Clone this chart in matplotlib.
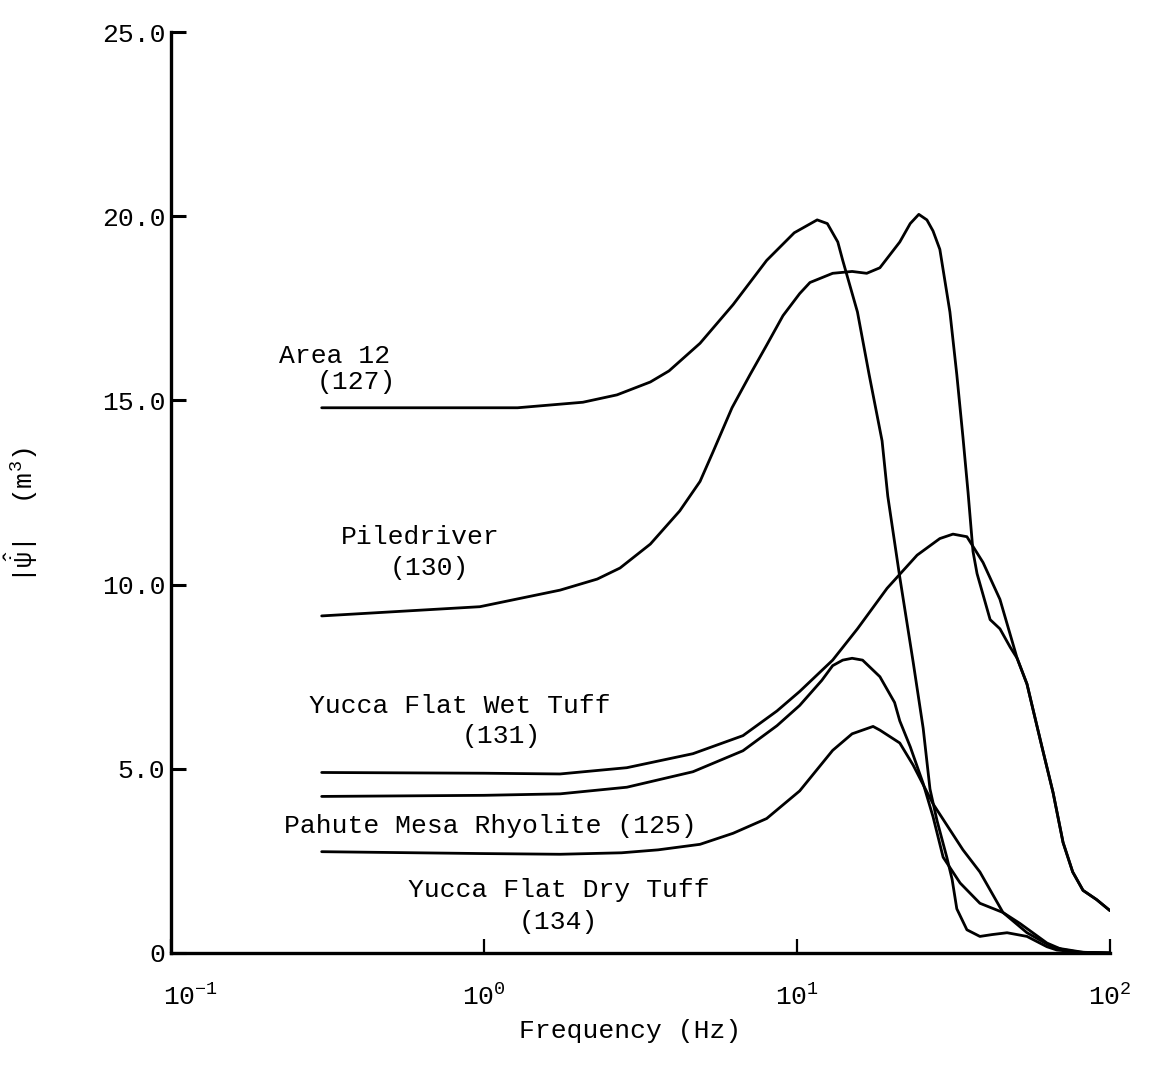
import matplotlib
matplotlib.use("Agg")
import matplotlib.pyplot as plt
from matplotlib.transforms import ScaledTranslation

plt.rcParams['font.family'] = ['Liberation Mono', 'DejaVu Sans']
plt.rcParams['mathtext.fontset'] = 'custom'
plt.rcParams['mathtext.rm'] = 'Liberation Mono'
plt.rcParams['mathtext.it'] = 'Liberation Mono'
plt.rcParams['mathtext.bf'] = 'Liberation Mono:bold'

# ---- data (frequency in Hz, |psi| in m^3) ----
area12_f = [0.303, 0.70, 1.28, 2.07, 2.66, 3.4, 3.9, 4.9, 6.25, 8.0, 9.8, 11.6, 12.5,
            13.5, 14.0, 15.6, 17.0, 18.7, 19.5, 21.3, 23.5, 25.3, 26.6, 28.0, 30.1,
            31.3, 32.4, 34.9, 38.4, 42.0, 46.9, 54.3, 62.9, 67.7, 80.0, 100.0]
area12_v = [14.8, 14.8, 14.8, 14.95, 15.15, 15.5, 15.8, 16.55, 17.6, 18.8, 19.55, 19.9, 19.8,
            19.3, 18.8, 17.4, 15.7, 13.9, 12.4, 10.2, 7.9, 6.1, 4.45, 3.6, 2.6,
            2.0, 1.2, 0.63, 0.45, 0.5, 0.55, 0.45, 0.17, 0.08, 0.02, 0.0]

pile_f = [0.303, 0.97, 1.75, 2.3, 2.72, 3.4, 4.22, 4.9, 5.39, 6.2, 7.08, 8.0, 9.02, 10.2,
          11.0, 13.0, 15.0, 16.7, 18.4, 21.3, 23.0, 24.5, 26.0, 27.2, 28.6, 30.8, 32.4,
          33.9, 35.2, 36.5, 37.6, 41.4, 44.5, 48.0, 50.5, 54.3, 56.8, 60.6, 65.8, 70.8,
          76.0, 82.0, 90.6, 100.0]
pile_v = [9.15, 9.4, 9.85, 10.15, 10.45, 11.1, 12.0, 12.8, 13.6, 14.8, 15.7, 16.5, 17.3, 17.9,
          18.2, 18.45, 18.5, 18.45, 18.6, 19.3, 19.8, 20.05, 19.9, 19.6, 19.1, 17.4, 15.7,
          14.0, 12.5, 10.9, 10.3, 9.05, 8.8, 8.3, 8.0, 7.3, 6.6, 5.6, 4.35, 3.0,
          2.2, 1.7, 1.45, 1.15]

wet_f = [0.303, 1.0, 1.75, 2.86, 4.65, 6.72, 8.63, 10.2, 13.0, 15.6, 19.4, 24.2, 28.6,
         31.5, 34.9, 39.3, 44.5, 50.5, 54.3, 56.8, 60.6, 65.8, 70.8, 76.0, 82.0, 90.6, 100.0]
wet_v = [4.9, 4.88, 4.86, 5.03, 5.41, 5.9, 6.57, 7.1, 7.95, 8.8, 9.9, 10.8, 11.25,
         11.37, 11.3, 10.6, 9.6, 8.0, 7.3, 6.6, 5.6, 4.35, 3.0, 2.2, 1.7, 1.45, 1.15]

rhy_f = [0.303, 1.0, 1.75, 2.86, 4.65, 6.72, 8.63, 10.2, 12.0, 13.0, 14.0, 15.0, 16.2,
         18.4, 20.5, 21.3, 23.0, 25.3, 27.2, 29.3, 33.2, 38.4, 45.5, 51.6, 62.9, 70.0,
         80.0, 100.0]
rhy_v = [4.25, 4.28, 4.32, 4.5, 4.92, 5.49, 6.17, 6.72, 7.4, 7.8, 7.95, 8.0, 7.95,
         7.5, 6.8, 6.3, 5.6, 4.6, 3.7, 2.6, 1.9, 1.35, 1.1, 0.8, 0.27, 0.1,
         0.02, 0.0]

dry_f = [0.303, 0.97, 1.75, 2.75, 3.6, 4.9, 6.25, 8.0, 10.2, 13.0, 15.0, 17.5, 18.4,
         21.3, 23.5, 27.2, 33.9, 38.4, 45.5, 54.3, 65.8, 82.0, 100.0]
dry_v = [2.75, 2.7, 2.68, 2.72, 2.8, 2.95, 3.25, 3.65, 4.4, 5.5, 5.95, 6.15, 6.05,
         5.7, 5.1, 4.05, 2.8, 2.2, 1.1, 0.55, 0.15, 0.02, 0.0]

y_ticks = [0, 5, 10, 15, 20, 25]
y_ticklabels = ['0', '5.0', '10.0', '15.0', '20.0', '25.0']
x_ticks = [0.1, 1, 10, 100]
x_ticklabels = [r'$\mathregular{10^{-1}}$', r'$\mathregular{10^{0}}$',
                r'$\mathregular{10^{1}}$', r'$\mathregular{10^{2}}$']

labels = [
    ("Area 12", 0.334, 16.2), ("(127)", 0.39, 15.5),
    ("Piledriver", 0.624, 11.3), ("(130)", 0.667, 10.45),
    ("Yucca Flat Wet Tuff", 0.838, 6.7), ("(131)", 1.14, 5.9),
    ("Pahute Mesa Rhyolite (125)", 1.045, 3.45),
    ("Yucca Flat Dry Tuff", 1.74, 1.72), ("(134)", 1.73, 0.85),
]

fig = plt.figure(figsize=(11.55, 10.74), dpi=100)
ax = fig.add_axes([171/1155, 121/1074, 939/1155, 921/1074])

for f, v in [(area12_f, area12_v), (pile_f, pile_v), (wet_f, wet_v),
             (rhy_f, rhy_v), (dry_f, dry_v)]:
    ax.plot(f, v, color='black', lw=2.0, solid_capstyle='round', solid_joinstyle='round')

ax.set_xscale('log')
ax.set_xlim(0.1, 100)
ax.set_ylim(0, 25)

for s in ['top', 'right']:
    ax.spines[s].set_visible(False)
for s in ['left', 'bottom']:
    ax.spines[s].set_linewidth(2.4)

ax.set_yticks(y_ticks)
ax.set_yticklabels(y_ticklabels)
ax.set_xticks(x_ticks)
ax.set_xticklabels(x_ticklabels)
ax.minorticks_off()
ax.tick_params(axis='y', direction='in', length=11, width=2.2, labelsize=19, pad=4)
ax.tick_params(axis='x', direction='in', length=10, width=1.6, labelsize=19, pad=22)

# first x label sits slightly right of its tick in the original
first = ax.get_xticklabels()[0]
first.set_transform(first.get_transform() + ScaledTranslation(20/100, 0, fig.dpi_scale_trans))

for txt, x, y in labels:
    ax.text(x, y, txt, fontsize=19, ha='center', va='center')

ax.set_xlabel('Frequency (Hz)', fontsize=19)
ax.xaxis.set_label_coords(0.489, -0.072)
ax.set_ylabel(r'$|\hat{\dot{\psi}}|$  (m$^3$)', fontsize=19)
ax.yaxis.set_label_coords(-0.1395, 0.4756)

fig.savefig('out.png', dpi=100)
